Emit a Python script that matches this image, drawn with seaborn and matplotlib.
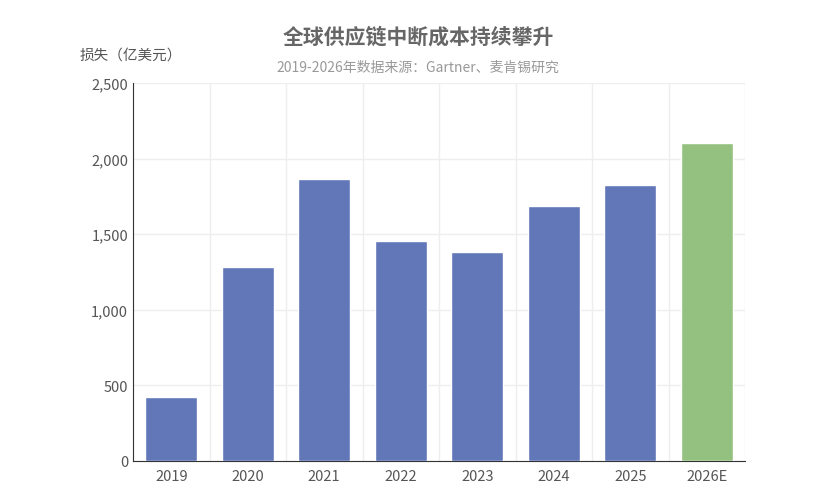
import matplotlib
matplotlib.use("Agg")
import matplotlib.pyplot as plt
import seaborn as sns
import pandas as pd

years = ["2019", "2020", "2021", "2022", "2023", "2024", "2025", "2026E"]
losses = [420, 1280, 1865, 1455, 1380, 1685, 1825, 2100]
kinds = ["实际"] * 7 + ["预测"]
yticks = [0, 500, 1000, 1500, 2000, 2500]
ytick_labels = ["0", "500", "1,000", "1,500", "2,000", "2,500"]

sns.set_style("white")
plt.rcParams['font.family'] = ['Noto Sans CJK SC', 'DejaVu Sans']

df = pd.DataFrame({"year": years, "loss": losses, "kind": kinds})
fig = plt.figure(figsize=(8.36, 5.02), dpi=100)
ax = fig.add_axes([133/836, 40/502, 612/836, 378/502])
sns.barplot(data=df, x="year", y="loss", hue="kind", dodge=False,
            palette={"实际": "#5470c6", "预测": "#91cc75"}, width=0.68,
            legend=False, ax=ax, zorder=3)
ax.set_ylim(0, 2500)
ax.set_xlim(-0.5, 7.5)
ax.set_yticks(yticks)
ax.set_yticklabels(ytick_labels)
ax.set_xlabel("")
ax.set_ylabel("")
ax.grid(True, color="#eeeeee", linewidth=1, zorder=0)
ax.set_xticks([i + 0.5 for i in range(-1, 8)], minor=True)
ax.xaxis.grid(False)
ax.grid(True, which="minor", axis="x", color="#eeeeee", linewidth=1, zorder=0)
for s in ["top", "right"]:
    ax.spines[s].set_visible(False)
for s in ["left", "bottom"]:
    ax.spines[s].set_color("#333333")
ax.tick_params(axis="both", labelsize=10.5, colors="#555555", length=0)
ax.tick_params(axis="x", which="minor", length=5, color="#333333")
ax.tick_params(axis="x", which="major", pad=6)
fig.text(0.5, 1 - 37/502, "全球供应链中断成本持续攀升", ha="center", va="center",
         fontsize=15, fontweight="bold", color="#666666")
fig.text(0.5, 1 - 68/502, "2019-2026年数据来源：Gartner、麦肯锡研究", ha="center",
         va="center", fontsize=10, color="#999999")
fig.text(80/836, 1 - 56/502, "损失（亿美元）", ha="left", va="center",
         fontsize=10.5, color="#555555")
fig.savefig("out.png", dpi=100)
